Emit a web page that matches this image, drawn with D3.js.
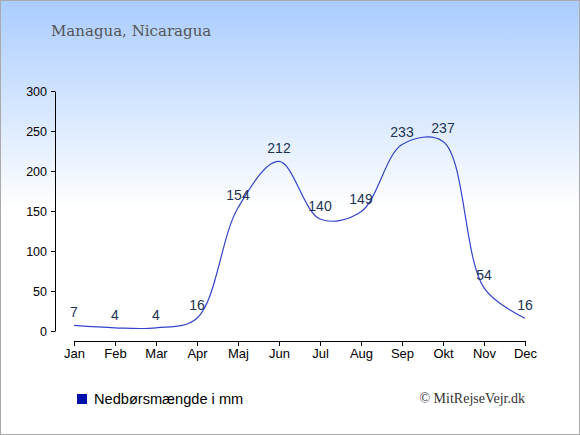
<!DOCTYPE html>
<html>
<head>
<meta charset="utf-8">
<script src="https://cdn.jsdelivr.net/npm/d3@7"></script>
<style>
  body { margin: 0; }
  svg { display: block; }
</style>
</head>
<body>
<svg id="chart" width="580" height="435"></svg>
<script>
// Monthly rainfall, Managua
const months = ["Jan", "Feb", "Mar", "Apr", "Maj", "Jun", "Jul", "Aug", "Sep", "Okt", "Nov", "Dec"];
const rain = [7, 4, 4, 16, 154, 212, 140, 149, 233, 237, 54, 16];
const yTicks = [0, 50, 100, 150, 200, 250, 300];

const svg = d3.select("#chart");
const W = 580, H = 435;

const defs = svg.append("defs");
const grad = defs.append("linearGradient")
    .attr("id", "bg").attr("x1", 0).attr("y1", 0).attr("x2", 0).attr("y2", 1);
grad.append("stop").attr("offset", "0%").attr("stop-color", "#aaccff");
grad.append("stop").attr("offset", "48%").attr("stop-color", "#ffffff");
grad.append("stop").attr("offset", "100%").attr("stop-color", "#ffffff");

svg.append("rect")
    .attr("x", 0.5).attr("y", 0.5)
    .attr("width", W - 1).attr("height", H - 1)
    .attr("fill", "url(#bg)")
    .attr("stroke", "#aaaaaa");

svg.append("text")
    .attr("x", 51).attr("y", 36)
    .style("font-family", "'DejaVu Serif', serif")
    .style("font-size", "15px")
    .style("fill", "#555555")
    .text("Managua, Nicaragua");

const x = d3.scalePoint().domain(months).range([74, 525]);
const y = d3.scaleLinear().domain([0, 300]).range([331, 91]);

// y axis
const yAxis = svg.append("g")
    .attr("transform", "translate(55,0)")
    .call(d3.axisLeft(y).tickValues(yTicks).tickSize(4).tickSizeOuter(0));
// x axis
const xAxis = svg.append("g")
    .attr("transform", "translate(0,341)")
    .call(d3.axisBottom(x).tickSize(5).tickSizeOuter(0));

[yAxis, xAxis].forEach(a => {
    a.select(".domain").attr("stroke", "#000");
    a.selectAll(".tick line").attr("stroke", "#000");
    a.selectAll("text")
        .style("font-family", "'Liberation Sans', Arial, sans-serif")
        .attr("fill", "#000");
});
yAxis.selectAll("text").attr("x", -8).style("font-size", "12.5px");
xAxis.selectAll("text").attr("y", 8).style("font-size", "13px");

const line = d3.line()
    .x((d, i) => x(months[i]))
    .y(d => y(d))
    .curve(d3.curveCatmullRom.alpha(0.5));

svg.append("path")
    .datum(rain)
    .attr("d", line)
    .attr("fill", "none")
    .attr("stroke", "#3344cc")
    .attr("stroke-width", 1.2);

svg.append("g").selectAll("text")
    .data(rain)
    .join("text")
    .attr("x", (d, i) => x(months[i]))
    .attr("y", d => y(d) - 8)
    .attr("text-anchor", "middle")
    .style("font-family", "'Liberation Sans', Arial, sans-serif")
    .style("font-size", "14px")
    .style("fill", "#223355")
    .text(d => d);

// legend
svg.append("rect")
    .attr("x", 77).attr("y", 394)
    .attr("width", 10).attr("height", 10)
    .attr("fill", "#0011aa");
svg.append("text")
    .attr("x", 94).attr("y", 404)
    .style("font-family", "'Liberation Sans', Arial, sans-serif")
    .style("font-size", "14.6px")
    .style("fill", "#000")
    .text("Nedbørsmængde i mm");
svg.append("text")
    .attr("x", 525).attr("y", 403)
    .attr("text-anchor", "end")
    .style("font-family", "'Liberation Serif', serif")
    .style("font-size", "14px")
    .style("fill", "#333")
    .text("© MitRejseVejr.dk");
</script>
</body>
</html>
